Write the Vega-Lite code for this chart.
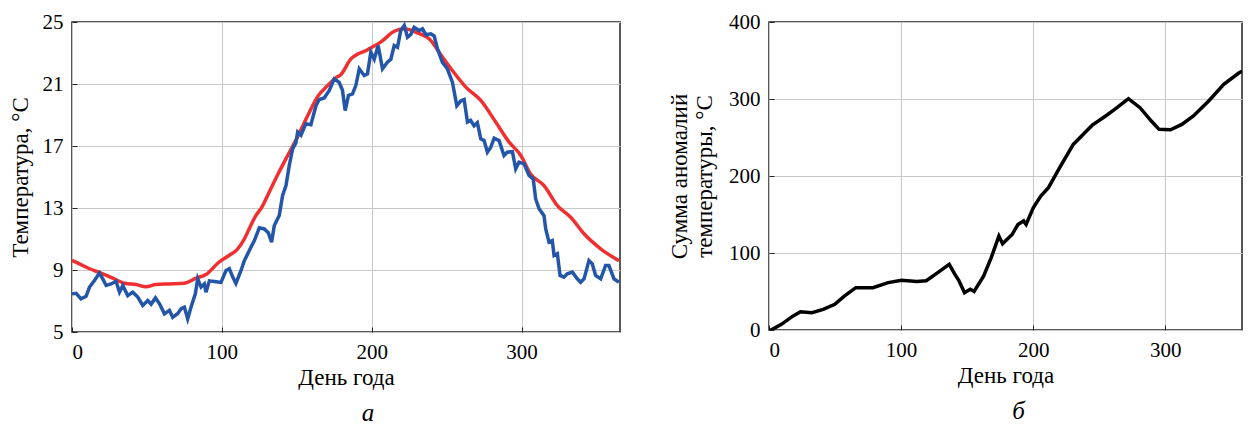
{
  "$schema": "https://vega.github.io/schema/vega-lite/v6.json",
  "background": "white",
  "padding": {"left": 8, "top": 10, "right": 0, "bottom": 0},
  "bounds": "flush",
  "spacing": 149,
  "config": {
    "font": "Times New Roman, Liberation Serif, DejaVu Serif, Noto Serif, FreeSerif, serif",
    "view": {"stroke": "#222222", "strokeWidth": 1.5},
    "axis": {
      "labelFont": "Times New Roman, Liberation Serif, DejaVu Serif, Noto Serif, FreeSerif, serif",
      "titleFont": "Times New Roman, Liberation Serif, DejaVu Serif, Noto Serif, FreeSerif, serif",
      "labelFontSize": 21,
      "titleFontSize": 23,
      "labelColor": "black",
      "titleColor": "black",
      "titleFontWeight": "normal",
      "gridColor": "#c8c8c8",
      "gridWidth": 1,
      "domain": false,
      "tickColor": "#222222",
      "tickSize": -5,
      "labelPadding": 14
    },
    "title": {"font": "Times New Roman, Liberation Serif, DejaVu Serif, Noto Serif, FreeSerif, serif", "fontSize": 25, "fontWeight": "normal", "fontStyle": "italic", "color": "black"}
  },
  "datasets": {
    "obs": [
      {"day": 0, "t": 7.46}, {"day": 2.8, "t": 7.5}, {"day": 6, "t": 7.14}, {"day": 9.4, "t": 7.3},
      {"day": 11.7, "t": 7.9}, {"day": 15, "t": 8.32}, {"day": 18.3, "t": 8.8}, {"day": 20.5, "t": 8.43},
      {"day": 22.8, "t": 8.0}, {"day": 26, "t": 8.1}, {"day": 29.4, "t": 8.27}, {"day": 31.7, "t": 7.57},
      {"day": 33.9, "t": 8.0}, {"day": 37.2, "t": 7.35}, {"day": 40.6, "t": 7.57}, {"day": 43.9, "t": 7.25},
      {"day": 47.2, "t": 6.71}, {"day": 50.6, "t": 7.03}, {"day": 52.8, "t": 6.8}, {"day": 55.7, "t": 7.2},
      {"day": 58.4, "t": 6.82}, {"day": 61.7, "t": 6.17}, {"day": 65, "t": 6.4}, {"day": 67.2, "t": 5.95},
      {"day": 70.6, "t": 6.2}, {"day": 72.8, "t": 6.5}, {"day": 75, "t": 6.6}, {"day": 77.2, "t": 5.85},
      {"day": 79.4, "t": 6.6}, {"day": 82.3, "t": 7.46}, {"day": 83.9, "t": 8.43}, {"day": 86.1, "t": 7.9},
      {"day": 88.3, "t": 8.1}, {"day": 89.4, "t": 7.57}, {"day": 91.7, "t": 8.3}, {"day": 96.1, "t": 8.24},
      {"day": 99.4, "t": 8.2}, {"day": 102.8, "t": 8.97}, {"day": 105, "t": 9.08}, {"day": 107.2, "t": 8.56},
      {"day": 109.4, "t": 8.13}, {"day": 112.8, "t": 8.97}, {"day": 115, "t": 9.6}, {"day": 119.4, "t": 10.47},
      {"day": 121.7, "t": 10.9}, {"day": 125, "t": 11.72}, {"day": 128.3, "t": 11.65}, {"day": 131, "t": 11.4},
      {"day": 133.2, "t": 10.8}, {"day": 135, "t": 11.87}, {"day": 138.3, "t": 12.52}, {"day": 140.5, "t": 13.8},
      {"day": 142.8, "t": 14.45}, {"day": 145, "t": 15.74}, {"day": 147.2, "t": 16.82}, {"day": 149.4, "t": 17.2},
      {"day": 150.6, "t": 17.9}, {"day": 152.8, "t": 17.7}, {"day": 156, "t": 18.43}, {"day": 159.4, "t": 18.37},
      {"day": 162.8, "t": 19.6}, {"day": 165, "t": 20.0}, {"day": 168.3, "t": 20.1}, {"day": 171.7, "t": 20.58},
      {"day": 175, "t": 21.33}, {"day": 178.3, "t": 21.1}, {"day": 180.5, "t": 20.6}, {"day": 182.3, "t": 19.29},
      {"day": 184.5, "t": 20.26}, {"day": 187.2, "t": 20.36}, {"day": 189.4, "t": 20.9}, {"day": 191.7, "t": 21.98},
      {"day": 195, "t": 21.55}, {"day": 197.2, "t": 21.66}, {"day": 199.4, "t": 23.05}, {"day": 201.7, "t": 22.6},
      {"day": 204.3, "t": 23.48}, {"day": 207.2, "t": 21.98}, {"day": 210.5, "t": 22.4}, {"day": 212.8, "t": 22.6},
      {"day": 215, "t": 23.48}, {"day": 217.2, "t": 23.37}, {"day": 219.4, "t": 24.45}, {"day": 221.7, "t": 24.77},
      {"day": 223.9, "t": 24.02}, {"day": 226.1, "t": 24.2}, {"day": 228.3, "t": 24.66}, {"day": 231.7, "t": 24.45},
      {"day": 233.9, "t": 24.56}, {"day": 236.1, "t": 24.18}, {"day": 239.4, "t": 24.24}, {"day": 241.7, "t": 24.1},
      {"day": 243.9, "t": 23.27}, {"day": 247.2, "t": 22.4}, {"day": 250.5, "t": 21.98}, {"day": 253.9, "t": 21.1},
      {"day": 256.8, "t": 19.6}, {"day": 259.4, "t": 19.9}, {"day": 261.7, "t": 20.0}, {"day": 263.9, "t": 18.54},
      {"day": 266, "t": 18.65}, {"day": 268.3, "t": 18.3}, {"day": 270.5, "t": 18.5}, {"day": 272.8, "t": 17.46},
      {"day": 275, "t": 17.35}, {"day": 277.2, "t": 16.6}, {"day": 279.4, "t": 16.9}, {"day": 281.7, "t": 17.5},
      {"day": 285, "t": 17.35}, {"day": 288.3, "t": 16.39}, {"day": 290.5, "t": 16.6}, {"day": 293.9, "t": 16.64},
      {"day": 296.1, "t": 15.53}, {"day": 298.3, "t": 15.96}, {"day": 301.7, "t": 15.85}, {"day": 305, "t": 15.1},
      {"day": 307.8, "t": 14.87}, {"day": 309.4, "t": 13.6}, {"day": 311.7, "t": 12.95}, {"day": 315, "t": 12.5},
      {"day": 316.1, "t": 11.66}, {"day": 318.3, "t": 10.8}, {"day": 320.5, "t": 10.9}, {"day": 321.7, "t": 9.94},
      {"day": 323.9, "t": 10.05}, {"day": 325.7, "t": 8.65}, {"day": 328.3, "t": 8.54}, {"day": 330.5, "t": 8.75},
      {"day": 333.9, "t": 8.86}, {"day": 337.2, "t": 8.43}, {"day": 339.4, "t": 8.21}, {"day": 341.7, "t": 8.43},
      {"day": 345, "t": 9.61}, {"day": 347.2, "t": 9.4}, {"day": 349.4, "t": 8.65}, {"day": 352.8, "t": 8.43},
      {"day": 356.1, "t": 9.29}, {"day": 358.3, "t": 9.29}, {"day": 361.7, "t": 8.43}, {"day": 365, "t": 8.21}
    ],
    "clim": [
      {"day": 0, "t": 9.62}, {"day": 6, "t": 9.35}, {"day": 11.7, "t": 9.08}, {"day": 19.4, "t": 8.8},
      {"day": 27.2, "t": 8.47}, {"day": 35, "t": 8.15}, {"day": 42.8, "t": 8.06}, {"day": 49.4, "t": 7.92},
      {"day": 56, "t": 8.06}, {"day": 64.9, "t": 8.1}, {"day": 75, "t": 8.15}, {"day": 82.8, "t": 8.47},
      {"day": 89.4, "t": 8.71}, {"day": 98, "t": 9.5}, {"day": 105, "t": 9.95}, {"day": 110, "t": 10.3},
      {"day": 115, "t": 11.0}, {"day": 118, "t": 11.6}, {"day": 122, "t": 12.4}, {"day": 127, "t": 13.1},
      {"day": 131, "t": 13.9}, {"day": 137, "t": 15.1}, {"day": 144, "t": 16.4}, {"day": 150.6, "t": 17.6},
      {"day": 157, "t": 18.9}, {"day": 164, "t": 20.2}, {"day": 170.6, "t": 20.9}, {"day": 176, "t": 21.4},
      {"day": 179.4, "t": 21.6}, {"day": 186, "t": 22.6}, {"day": 197, "t": 23.2}, {"day": 206, "t": 23.7},
      {"day": 215, "t": 24.4}, {"day": 221.7, "t": 24.56}, {"day": 230.5, "t": 24.3}, {"day": 239.5, "t": 23.8},
      {"day": 246, "t": 22.9}, {"day": 252.8, "t": 22.0}, {"day": 262.8, "t": 20.8}, {"day": 272.8, "t": 19.94},
      {"day": 282.8, "t": 18.54}, {"day": 291.7, "t": 17.25}, {"day": 299.5, "t": 16.39}, {"day": 306, "t": 15.2},
      {"day": 315, "t": 14.45}, {"day": 323.9, "t": 13.16}, {"day": 332.8, "t": 12.4}, {"day": 341.7, "t": 11.34},
      {"day": 352.8, "t": 10.37}, {"day": 365, "t": 9.6}
    ],
    "cum": [
      {"day": 0, "v": 0}, {"day": 2.2, "v": 0.5}, {"day": 9.4, "v": 7.4}, {"day": 18, "v": 18},
      {"day": 23.8, "v": 23.8}, {"day": 32.5, "v": 22.5}, {"day": 41, "v": 26.8}, {"day": 49.8, "v": 33.3},
      {"day": 57, "v": 44}, {"day": 65.7, "v": 55}, {"day": 78.7, "v": 55}, {"day": 90.2, "v": 61.5},
      {"day": 100.3, "v": 64.5}, {"day": 111.9, "v": 63}, {"day": 119, "v": 64}, {"day": 127.7, "v": 74.5},
      {"day": 136.4, "v": 85.3}, {"day": 140.7, "v": 72.3}, {"day": 143.6, "v": 64.5}, {"day": 148, "v": 48.5},
      {"day": 152.3, "v": 52.8}, {"day": 155.2, "v": 50}, {"day": 162.4, "v": 70}, {"day": 168.2, "v": 94},
      {"day": 174, "v": 122}, {"day": 176.8, "v": 112}, {"day": 184, "v": 124}, {"day": 188.4, "v": 137},
      {"day": 192.7, "v": 141.6}, {"day": 194.6, "v": 137}, {"day": 200, "v": 158.8}, {"day": 205.7, "v": 174},
      {"day": 211.5, "v": 184.8}, {"day": 220, "v": 210.8}, {"day": 230.3, "v": 241}, {"day": 240.3, "v": 258.4},
      {"day": 244.7, "v": 266}, {"day": 254.8, "v": 278}, {"day": 263.4, "v": 288.7}, {"day": 272, "v": 300.4},
      {"day": 280.8, "v": 288.7}, {"day": 289.4, "v": 271.4}, {"day": 295.2, "v": 260.6}, {"day": 303.9, "v": 260},
      {"day": 312.5, "v": 267}, {"day": 321.2, "v": 278}, {"day": 332.8, "v": 297.4}, {"day": 344.2, "v": 319},
      {"day": 355.8, "v": 334}, {"day": 358, "v": 336}
    ]
  },
  "hconcat": [
    {
      "width": 548,
      "height": 310,
      "title": {"text": "а", "orient": "bottom", "dx": 22, "offset": 12},
      "layer": [
        {
          "data": {"name": "clim"},
          "mark": {"type": "line", "color": "#f03030", "strokeWidth": 3.5, "interpolate": "monotone"},
          "encoding": {
            "x": {"field": "day", "type": "quantitative", "scale": {"domain": [0, 365.7], "nice": false, "zero": false},
                  "axis": {"values": [0, 100, 200, 300], "title": "День года", "titlePadding": 4}},
            "y": {"field": "t", "type": "quantitative", "scale": {"domain": [5, 25], "nice": false, "zero": false},
                  "axis": {"values": [5, 9, 13, 17, 21, 25], "title": "Температура, °C", "titlePadding": 10}}
          }
        },
        {
          "data": {"name": "obs"},
          "mark": {"type": "line", "color": "#2356a8", "strokeWidth": 3.5},
          "encoding": {
            "x": {"field": "day", "type": "quantitative"},
            "y": {"field": "t", "type": "quantitative"}
          }
        }
      ]
    },
    {
      "width": 473,
      "height": 308,
      "title": {"text": "б", "orient": "bottom", "dx": 13, "offset": 12},
      "data": {"name": "cum"},
      "mark": {"type": "line", "color": "black", "strokeWidth": 3.5, "clip": true},
      "encoding": {
        "x": {"field": "day", "type": "quantitative", "scale": {"domain": [0, 358], "nice": false, "zero": false},
              "axis": {"values": [0, 100, 200, 300], "title": "День года", "titlePadding": 4}},
        "y": {"field": "v", "type": "quantitative", "scale": {"domain": [0, 400], "nice": false},
              "axis": {"values": [0, 100, 200, 300, 400], "title": ["Сумма аномалий", "температуры, °C"], "titlePadding": 12}}
      }
    }
  ]
}
